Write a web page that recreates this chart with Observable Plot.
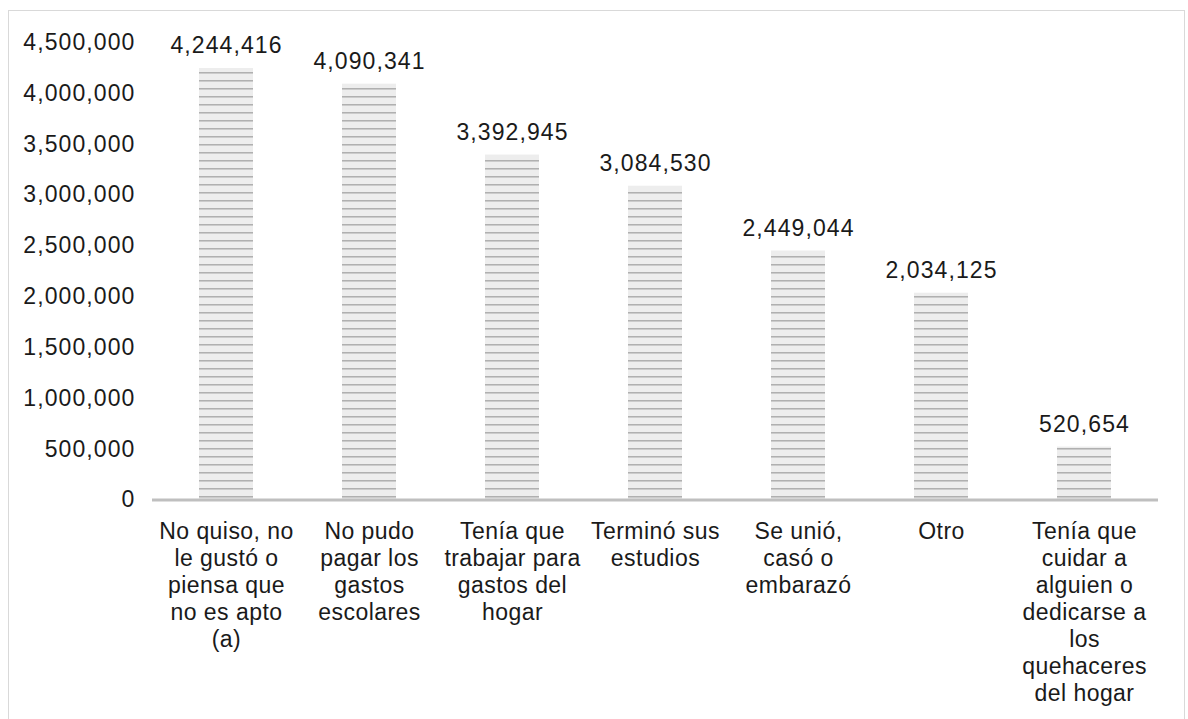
<!DOCTYPE html>
<html>
<head>
<meta charset="utf-8">
<script src="https://cdn.jsdelivr.net/npm/d3@7"></script>
<script src="https://cdn.jsdelivr.net/npm/@observablehq/plot@0.6"></script>
<style>
  html, body { margin: 0; padding: 0; background: #fff; overflow: hidden; }
  #frame { position: absolute; left: 8px; top: 10px; width: 1177px; height: 760px; border: 1.5px solid #d9d9d9; box-sizing: border-box; }
  #chart { position: absolute; left: 0; top: 0; }
  .num text { letter-spacing: 1.1px; }
  .cat text { letter-spacing: 0.45px; }
</style>
</head>
<body>
<div id="frame"></div>
<div id="chart"></div>
<script>
const categories = [
  "No quiso, no\nle gustó o\npiensa que\nno es apto\n(a)",
  "No pudo\npagar los\ngastos\nescolares",
  "Tenía que\ntrabajar para\ngastos del\nhogar",
  "Terminó sus\nestudios",
  "Se unió,\ncasó o\nembarazó",
  "Otro",
  "Tenía que\ncuidar a\nalguien o\ndedicarse a\nlos\nquehaceres\ndel hogar"
];
const values = [4244416, 4090341, 3392945, 3084530, 2449044, 2034125, 520654];
const yTicks = [0, 500000, 1000000, 1500000, 2000000, 2500000, 3000000, 3500000, 4000000, 4500000];

const data = categories.map((c, i) => ({category: c, value: values[i]}));
const fmt = d3.format(",");
const font = "'Liberation Sans', Arial, sans-serif";

const plot = Plot.plot({
  width: 1188,
  height: 719,
  marginLeft: 152,
  marginRight: 30,
  marginTop: 42,
  marginBottom: 219.5,
  style: {fontFamily: font, fontSize: "23px", color: "#1a1a1a", background: "transparent"},
  x: {domain: categories, paddingInner: 0.624, paddingOuter: 0.312},
  y: {domain: [0, 4500000]},
  marks: [
    Plot.axisY({ticks: yTicks, tickFormat: fmt, tickSize: 0, tickPadding: 17, fontSize: 23, label: null, fill: "#1a1a1a", className: "num"}),
    Plot.axisX({tickSize: 0, tickPadding: 20, fontSize: 23, lineHeight: 1.17, label: null, fill: "#1a1a1a", textOverflow: null, className: "cat"}),
    Plot.barY(data, {x: "category", y: "value", fill: "url(#stripes)"}),
    Plot.ruleY([0], {stroke: "#bfbfbf", strokeWidth: 3}),
    Plot.text(data, {x: "category", y: "value", text: d => fmt(d.value), dy: -15, lineAnchor: "bottom", fontSize: 23, fill: "#1a1a1a", className: "num"})
  ]
});

const ns = "http://www.w3.org/2000/svg";
const defs = document.createElementNS(ns, "defs");
defs.innerHTML = `<pattern id="stripes" patternUnits="userSpaceOnUse" x="0" y="0" width="8" height="8">
  <rect x="0" y="0" width="8" height="8" fill="#ededed"></rect>
  <line x1="0" x2="8" y1="0.8" y2="0.8" stroke="#a9a9a9" stroke-width="1.4"></line>
</pattern>`;
plot.insertBefore(defs, plot.firstChild);
document.getElementById("chart").appendChild(plot);
</script>
</body>
</html>
